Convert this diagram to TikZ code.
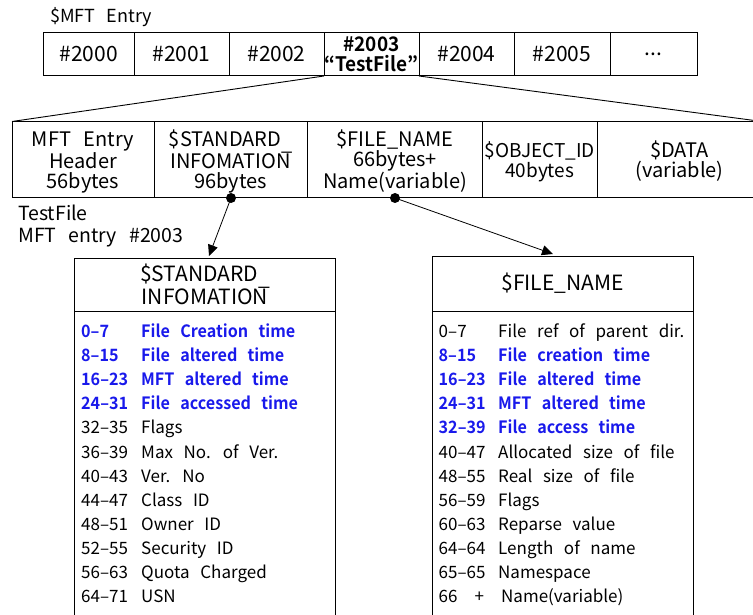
\documentclass[tikz,border=0pt]{standalone}
\usepackage{fontspec}
\setmainfont[WordSpace=2.8,BoldFont={Noto Sans CJK KR Bold},BoldFeatures={FakeStretch=0.95}]{Noto Sans CJK KR}
\usetikzlibrary{arrows.meta,calc}
\definecolor{fieldblue}{RGB}{25,25,235}
% extra room above the first line of a cell
\newcommand{\toppad}{\rule{0pt}{20.5pt}}
\tikzset{
  cell/.style={draw, line width=1pt, inner sep=0pt, outer sep=0pt, align=center},
  toprow/.style={cell, minimum height=43.5pt, font=\fontsize{21}{20}\selectfont},
  attrrow/.style={cell, minimum height=76pt, font=\fontsize{20}{20}\selectfont},
  headbox/.style={cell, font=\fontsize{21}{18}\selectfont},
  bodybox/.style={cell, minimum height=330pt},
  dotmark/.style={circle, fill, inner sep=0pt, minimum size=10pt},
  link/.style={line width=0.8pt, -{Triangle[length=11pt,width=10pt]}},
  fan/.style={line width=0.9pt},
  entry/.style={anchor=base west, inner sep=0pt, font=\fontsize{17}{20}\selectfont},
  hot/.style={entry, text=fieldblue, font=\fontsize{17}{20}\selectfont\bfseries},
  caption/.style={anchor=west, inner sep=0pt, align=left, font=\fontsize{19.5}{21.5}\selectfont},
}
\begin{document}
\begin{tikzpicture}[x=1pt,y=-1pt]
\clip (0,0) rectangle (753,615);

% caption of the entry table
\node[caption, font=\fontsize{18}{20}\selectfont] (mftcap) at (50,17) {\$MFT Entry};

% MFT entry table
\node[toprow, minimum width=90.5pt] (e2000) at (88.75,54.25) {\#2000};
\node[toprow, minimum width=95pt] (e2001) at (181.5,54.25) {\#2001};
\node[toprow, minimum width=95pt] (e2002) at (276.5,54.25) {\#2002};
\node[toprow, minimum width=95pt, font=\fontsize{20}{19.5}\selectfont] (e2003) at (371.5,54.25) {\textbf{\#2003}\\\textbf{“TestFile”}};
\node[toprow, minimum width=95pt] (e2004) at (466.5,54.25) {\#2004};
\node[toprow, minimum width=96pt] (e2005) at (562,54.25) {\#2005};
\node[toprow, minimum width=87pt] (emore) at (653.5,54.25) {...};

% attributes of entry #2003
\node[attrrow, minimum width=142pt] (hdr) at (83,159.5) {\toppad MFT Entry\\Header\\56bytes};
\node[attrrow, minimum width=153.5pt] (std) at (230.75,159.5) {\toppad\$STANDARD\raisebox{-4pt}{\_}\\INFOMATION\\96bytes};
\node[attrrow, minimum width=175pt] (fn) at (395,159.5) {\toppad\$FILE\_NAME\\66bytes+\\Name(variable)};
\node[attrrow, minimum width=114.5pt, font=\fontsize{19}{20}\selectfont] (oid) at (539.75,159.5) {\toppad\$OBJECT\_ID\\40bytes};
\node[attrrow, minimum width=165pt] (dat) at (679.5,159.5) {\toppad\$DATA\\(variable)};

\draw[fan] (e2003.south west) -- (hdr.north west);
\draw[fan] (e2003.south east) -- (dat.north east);

\node[caption] (tflabel) at (18,226) {TestFile\\MFT entry \#2003};

% $STANDARD_INFORMATION layout
\node[headbox, minimum width=261pt, minimum height=53pt] (sihead) at (205,284.5) {\$STANDARD\raisebox{-4pt}{\_}\\INFOMATION};
\node[bodybox, minimum width=261pt, anchor=north] (sibody) at (sihead.south) {};
\foreach \num/\txt/\sty [count=\i from 0] in {
  0–7/File Creation time/hot, 8–15/File altered time/hot,
  16–23/MFT altered time/hot, 24–31/File accessed time/hot,
  32–35/Flags/entry, 36–39/Max No. of Ver./entry, 40–43/Ver. No/entry,
  44–47/Class ID/entry, 48–51/Owner ID/entry, 52–55/Security ID/entry,
  56–63/Quota Charged/entry, 64–71/USN/entry}{
  \node[\sty] (si-n\i) at (81,337.3+24.15*\i) {\num};
  \node[\sty] (si-t\i) at (141,337.3+24.15*\i) {\txt};
}

% $FILE_NAME layout
\node[headbox, minimum width=261pt, minimum height=55pt] (fnhead) at (562.5,283.5) {\$FILE\_NAME};
\node[bodybox, minimum width=261pt, anchor=north] (fnbody) at (fnhead.south) {};
\foreach \num/\txt/\sty [count=\i from 0] in {
  0–7/File ref of parent dir./entry, 8–15/File creation time/hot,
  16–23/File altered time/hot, 24–31/MFT altered time/hot,
  32–39/File access time/hot, 40–47/Allocated size of file/entry,
  48–55/Real size of file/entry, 56–59/Flags/entry, 60–63/Reparse value/entry,
  64–64/Length of name/entry, 65–65/Namespace/entry}{
  \node[\sty] (fn-n\i) at (438.5,337.3+24.15*\i) {\num};
  \node[\sty] (fn-t\i) at (498,337.3+24.15*\i) {\txt};
}
\node[entry] (fn-n11) at (438.5,602.95) {66\hspace{17pt}+};
\node[entry] (fn-t11) at (501,602.95) {Name(variable)};

% links from the attribute table
\node[dotmark] (dsi) at (231,198) {};
\node[dotmark] (dfn) at (395,198) {};
\coordinate (sitip) at (209,256);
\coordinate (fntip) at (553,254);
\draw[link] (dsi.center) -- (sitip);
\draw[link] (dfn.center) -- (fntip);
\end{tikzpicture}
\end{document}
